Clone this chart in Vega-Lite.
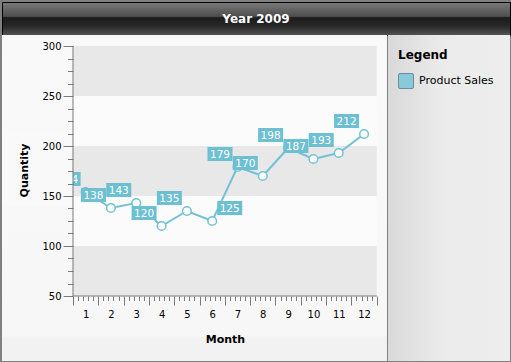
{
  "$schema": "https://vega.github.io/schema/vega-lite/v6.json",
  "background": "#808080",
  "padding": {"left": 1, "top": 1, "right": 2, "bottom": 2},
  "spacing": 0,
  "bounds": "flush",
  "config": {
    "view": {"stroke": null},
    "font": "DejaVu Sans",
    "axis": {"labelFont": "DejaVu Sans", "titleFont": "DejaVu Sans"},
    "legend": {"labelFont": "DejaVu Sans", "titleFont": "DejaVu Sans"}
  },
  "datasets": {
    "sales": [
      {"month": 1, "qty": 154, "series": "Product Sales"},
      {"month": 2, "qty": 138, "series": "Product Sales"},
      {"month": 3, "qty": 143, "series": "Product Sales"},
      {"month": 4, "qty": 120, "series": "Product Sales"},
      {"month": 5, "qty": 135, "series": "Product Sales"},
      {"month": 6, "qty": 125, "series": "Product Sales"},
      {"month": 7, "qty": 179, "series": "Product Sales"},
      {"month": 8, "qty": 170, "series": "Product Sales"},
      {"month": 9, "qty": 198, "series": "Product Sales"},
      {"month": 10, "qty": 187, "series": "Product Sales"},
      {"month": 11, "qty": 193, "series": "Product Sales"},
      {"month": 12, "qty": 212, "series": "Product Sales"}
    ]
  },
  "vconcat": [
    {
      "width": 508,
      "height": 33,
      "view": {
        "fill": {"gradient": "linear", "x1": 0, "y1": 0, "x2": 0, "y2": 1,
          "stops": [
            {"offset": 0, "color": "#7a7a7a"},
            {"offset": 0.42, "color": "#4e4e4e"},
            {"offset": 0.46, "color": "#1c1c1c"},
            {"offset": 0.7, "color": "#262626"},
            {"offset": 1, "color": "#555555"}
          ]},
        "stroke": "#000000",
        "strokeWidth": 1
      },
      "data": {"values": [{"title": "Year 2009"}]},
      "mark": {"type": "text", "color": "#ffffff", "fontWeight": "bold", "fontSize": 12, "baseline": "middle", "align": "center"},
      "encoding": {"text": {"field": "title"}}
    },
    {
      "hconcat": [
        {
          "width": 385,
          "height": 326,
          "view": {
            "fill": {"gradient": "linear", "x1": 0, "y1": 0, "x2": 0, "y2": 1,
              "stops": [
                {"offset": 0, "color": "#f9f9f9"},
                {"offset": 0.92, "color": "#f7f7f7"},
                {"offset": 0.93, "color": "#f2f2f2"},
                {"offset": 1, "color": "#f2f2f2"}
              ]}
          },
          "resolve": {"axis": {"x": "independent", "y": "independent"}},
          "layer": [
            {
              "data": {"values": [{"lo": 50, "hi": 100}, {"lo": 150, "hi": 200}, {"lo": 250, "hi": 300}]},
              "mark": {"type": "rect", "color": "#e8e8e8"},
              "encoding": {
                "x": {"datum": 0.5, "type": "quantitative",
                  "scale": {"domain": [-2.305, 12.907], "nice": false, "zero": false},
                  "axis": {
                    "orient": "bottom", "offset": -65, "domain": false, "grid": false,
                    "values": [0.5,0.7,0.9,1,1.1,1.3,1.5,1.7,1.9,2,2.1,2.3,2.5,2.7,2.9,3,3.1,3.3,3.5,3.7,3.9,4,4.1,4.3,4.5,4.7,4.9,5,5.1,5.3,5.5,5.7,5.9,6,6.1,6.3,6.5,6.7,6.9,7,7.1,7.3,7.5,7.7,7.9,8,8.1,8.3,8.5,8.7,8.9,9,9.1,9.3,9.5,9.7,9.9,10,10.1,10.3,10.5,10.7,10.9,11,11.1,11.3,11.5,11.7,11.9,12,12.1,12.3,12.5],
                    "labelExpr": "abs(datum.value - round(datum.value)) < 0.01 ? '' + round(datum.value) : ''",
                    "tickSize": {"condition": {"test": "abs(datum.value - floor(datum.value) - 0.5) < 0.01", "value": 9}, "value": 4.5},
                    "tickOpacity": {"condition": {"test": "abs(datum.value - round(datum.value)) < 0.01", "value": 0}, "value": 1},
                    "tickColor": "#7a7a7a", "tickWidth": 1,
                    "labelFontSize": 10, "labelColor": "#000000", "labelPadding": 17, "labelBaseline": "alphabetic",
                    "labelOverlap": false, "labelFlush": false, "labelBound": false,
                    "title": "Month", "titleFontSize": 11, "titleFontWeight": "bold", "titleColor": "#000000",
                    "titleX": 223, "titleY": 46, "titleBaseline": "alphabetic", "titleAlign": "center",
                    "zindex": 1
                  }
                },
                "x2": {"datum": 12.5},
                "y": {"field": "lo", "type": "quantitative",
                  "scale": {"domain": [-15, 311], "nice": false, "zero": false},
                  "axis": {
                    "orient": "left", "offset": -71, "domain": false, "grid": false,
                    "values": [50,62.5,75,87.5,100,112.5,125,137.5,150,162.5,175,187.5,200,212.5,225,237.5,250,262.5,275,287.5,300],
                    "labelExpr": "datum.value % 50 === 0 ? '' + datum.value : ''",
                    "tickSize": {"condition": {"test": "datum.value % 50 === 0", "value": 10}, "value": 5.5},
                    "tickColor": "#7a7a7a", "tickWidth": 1,
                    "labelFontSize": 10, "labelColor": "#000000", "labelPadding": 2, "labelBaseline": "middle",
                    "labelOverlap": false, "labelFlush": false, "labelBound": false,
                    "title": "Quantity", "titleFontSize": 11, "titleFontWeight": "bold", "titleColor": "#000000",
                    "titleX": -46, "titleY": 135, "titleBaseline": "alphabetic", "titleAlign": "center", "titleAngle": 270,
                    "zindex": 1
                  }
                },
                "y2": {"field": "hi"}
              }
            },
            {
              "data": {"values": [{"lo": 100, "hi": 150}, {"lo": 200, "hi": 250}]},
              "mark": {"type": "rect", "color": "#fbfbfb"},
              "encoding": {
                "x": {"datum": 0.5, "type": "quantitative", "axis": null},
                "x2": {"datum": 12.5},
                "y": {"field": "lo", "type": "quantitative", "axis": null},
                "y2": {"field": "hi"}
              }
            },
            {
              "data": {"name": "sales"},
              "mark": {"type": "line", "color": "#73c2d4", "strokeWidth": 2},
              "encoding": {
                "x": {"field": "month", "type": "quantitative", "axis": null},
                "y": {"field": "qty", "type": "quantitative", "axis": null}
              }
            },
            {
              "data": {"name": "sales"},
              "mark": {"type": "point", "filled": false, "fill": "#ffffff", "stroke": "#73c2d4", "strokeWidth": 1.5, "size": 75, "opacity": 1},
              "encoding": {
                "x": {"field": "month", "type": "quantitative", "axis": null},
                "y": {"field": "qty", "type": "quantitative", "axis": null}
              }
            },
            {
              "data": {"name": "sales"},
              "transform": [{"filter": "datum.month != 6"}],
              "mark": {"type": "point", "shape": "M-1,-0.56H1V0.56H-1Z", "size": 625, "filled": true, "color": "#6dbfd2", "opacity": 1, "strokeWidth": 0, "xOffset": -17.5, "yOffset": -13},
              "encoding": {
                "x": {"field": "month", "type": "quantitative", "axis": null},
                "y": {"field": "qty", "type": "quantitative", "axis": null}
              }
            },
            {
              "data": {"name": "sales"},
              "transform": [{"filter": "datum.month == 6"}],
              "mark": {"type": "point", "shape": "M-1,-0.56H1V0.56H-1Z", "size": 625, "filled": true, "color": "#6dbfd2", "opacity": 1, "strokeWidth": 0, "xOffset": 17.5, "yOffset": -13},
              "encoding": {
                "x": {"field": "month", "type": "quantitative", "axis": null},
                "y": {"field": "qty", "type": "quantitative", "axis": null}
              }
            },
            {
              "data": {"name": "sales"},
              "transform": [{"filter": "datum.month != 6"}],
              "mark": {"type": "text", "color": "#ffffff", "fontSize": 10.5, "baseline": "middle", "align": "center", "dx": -17.5, "dy": -12.5},
              "encoding": {
                "x": {"field": "month", "type": "quantitative", "axis": null},
                "y": {"field": "qty", "type": "quantitative", "axis": null},
                "text": {"field": "qty"}
              }
            },
            {
              "data": {"name": "sales"},
              "transform": [{"filter": "datum.month == 6"}],
              "mark": {"type": "text", "color": "#ffffff", "fontSize": 10.5, "baseline": "middle", "align": "center", "dx": 17.5, "dy": -12.5},
              "encoding": {
                "x": {"field": "month", "type": "quantitative", "axis": null},
                "y": {"field": "qty", "type": "quantitative", "axis": null},
                "text": {"field": "qty"}
              }
            },
            {
              "data": {"values": [{"part": "edge"}]},
              "mark": {"type": "rect", "color": "#f9f9f9"},
              "encoding": {
                "x": {"datum": -2.305, "type": "quantitative", "axis": null},
                "x2": {"datum": 0.5},
                "y": {"datum": 140, "type": "quantitative", "axis": null},
                "y2": {"datum": 215}
              }
            },
            {
              "data": {"values": [{"part": "xaxis"}]},
              "mark": {"type": "rule", "color": "#7a7a7a", "strokeWidth": 1},
              "encoding": {
                "x": {"datum": 0.5, "type": "quantitative", "axis": null},
                "x2": {"datum": 12.5},
                "y": {"datum": 50, "type": "quantitative", "axis": null}
              }
            },
            {
              "data": {"values": [{"part": "yaxis"}]},
              "mark": {"type": "rule", "color": "#7a7a7a", "strokeWidth": 1},
              "encoding": {
                "x": {"datum": 0.5, "type": "quantitative", "axis": null},
                "y": {"datum": 50, "type": "quantitative", "axis": null},
                "y2": {"datum": 300}
              }
            }
          ]
        },
        {
          "width": 122,
          "height": 326,
          "view": {
            "fill": {"gradient": "linear", "x1": 0, "y1": 0, "x2": 1, "y2": 0,
              "stops": [
                {"offset": 0, "color": "#d9d9d9"},
                {"offset": 0.45, "color": "#ebebeb"},
                {"offset": 1, "color": "#ededed"}
              ]}
          },
          "data": {"values": [{"series": "Product Sales"}]},
          "mark": {"type": "point", "filled": true, "opacity": 0},
          "encoding": {
            "color": {"field": "series", "type": "nominal",
              "scale": {"range": ["#88c9da"]},
              "legend": {
                "orient": "none", "legendX": 10, "legendY": 15,
                "title": "Legend", "titleFontSize": 12, "titleFontWeight": "bold", "titleColor": "#000000", "titlePadding": 11,
                "padding": 0,
                "symbolType": "M-0.8,-1H0.8Q1,-1,1,-0.8V0.8Q1,1,0.8,1H-0.8Q-1,1,-1,0.8V-0.8Q-1,-1,-0.8,-1Z",
                "symbolSize": 225, "symbolStrokeColor": "#6f8c98", "symbolStrokeWidth": 1, "symbolOpacity": 1,
                "labelFontSize": 11, "labelColor": "#000000", "labelOffset": 5
              }
            }
          }
        }
      ],
      "spacing": 1,
      "bounds": "flush",
      "resolve": {"scale": {"color": "independent"}, "legend": {"color": "independent"}}
    }
  ]
}
